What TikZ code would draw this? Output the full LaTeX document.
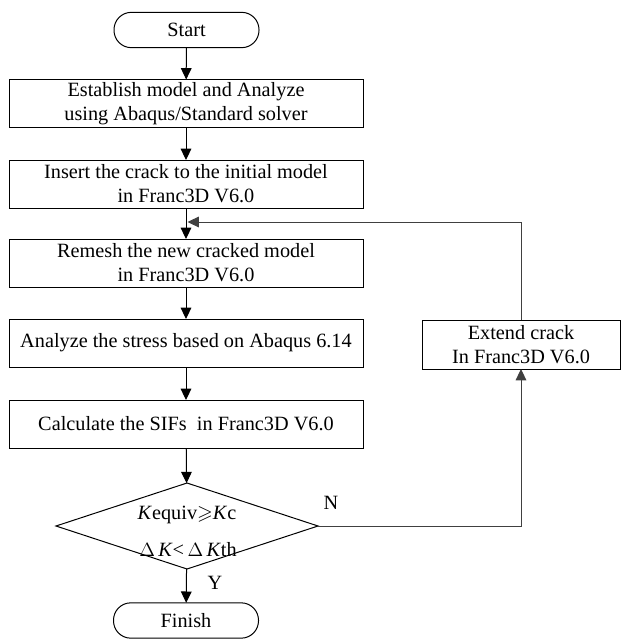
\documentclass[tikz,border=0pt]{standalone}
\usepackage{fontspec}
\usepackage{amssymb}
\setmainfont{Liberation Serif}
\usetikzlibrary{shapes.geometric,arrows.meta}
\begin{document}
\begin{tikzpicture}[x=0.75pt,y=-0.75pt,
  font=\fontsize{15.2}{18}\selectfont,
  every node/.style={inner sep=0pt, outer sep=0pt},
  term/.style={draw, line width=0.75pt, rounded corners=13pt, minimum width=108.75pt, minimum height=26.5pt},
  proc/.style={draw, line width=0.75pt, minimum width=265.5pt, minimum height=36pt, align=center},
  dec/.style={draw, line width=0.75pt, diamond, minimum width=196.5pt, minimum height=64.5pt},
  flow/.style={line width=0.75pt, -{Triangle[width=8pt,length=8.5pt]}},
  back/.style={line width=0.75pt, draw=black!75, -{Triangle[width=8pt,length=8.5pt]}}
]
\path[use as bounding box] (0,0) rectangle (625,639);

\node[term] (start) at (186.5,30) {Start};
\node[proc] (b1) at (186,103.5) {Establish model and Analyze\\using Abaqus/Standard solver};
\node[proc] (b2) at (186,184) {Insert the crack to the initial model\\in Franc3D V6.0};
\node[proc] (b3) at (186,263) {Remesh the new cracked model\\in Franc3D V6.0};
\node[proc] (b4) at (186,343) {Analyze the stress based on Abaqus 6.14};
\node[proc] (b5) at (186,424) {Calculate the SIFs\ \ in Franc3D V6.0};
\node[dec] (dia) at (187,526) {};
\node (k1) at (187,515) {\textit{K}equiv$\geqslant$\textit{K}c};
\node (k2) at (188,550) {$\Delta$\,\textit{K}<\,$\Delta$\,\textit{K}th};
\node[term] (fin) at (186,620.5) {Finish};
\node[proc, minimum width=148.5pt, minimum height=36.75pt] (ext) at (521,344.5) {Extend crack\\In Franc3D V6.0};
\node (nlab) at (331,503) {N};
\node (ylab) at (215,583) {Y};
\coordinate (fb) at (187.5,222);

\draw[flow] (start) -- (b1);
\draw[flow] (b1) -- (b2);
\draw[flow] (b2) -- (b3);
\draw[flow] (b3) -- (b4);
\draw[flow] (b4) -- (b5);
\draw[flow] (b5) -- (dia);
\draw[flow] (dia) -- (fin);
\draw[back] (dia.east) -| (ext.south);
\draw[back] (ext.north) |- (fb);
\end{tikzpicture}
\end{document}
